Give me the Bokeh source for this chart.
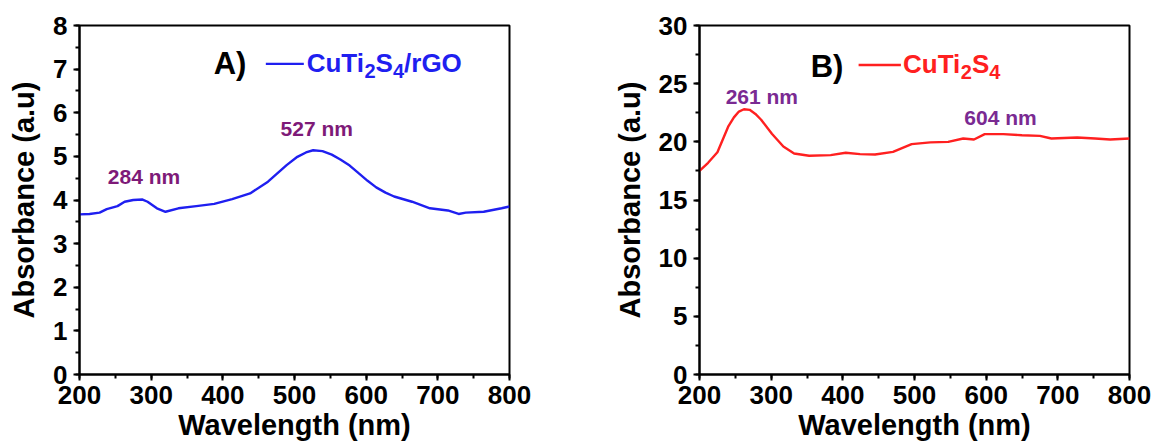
from bokeh.plotting import figure
from bokeh.layouts import row
from bokeh.models import Label, Range1d, SingleIntervalTicker
from bokeh.embed import file_html
from bokeh.resources import INLINE

# ---------------- data ----------------
wavelength_a = [200, 214, 228, 238, 253, 263, 275, 288, 295, 308, 320, 338, 363, 388, 413,
                438, 463, 489, 504, 516, 526, 539, 552, 564, 577, 589, 602, 614, 627, 639,
                664, 689, 714, 729, 739, 764, 789, 800]
absorbance_a = [3.67, 3.68, 3.71, 3.79, 3.86, 3.96, 4.00, 4.01, 3.96, 3.81, 3.73, 3.81, 3.86,
                3.91, 4.02, 4.15, 4.42, 4.80, 4.99, 5.09, 5.14, 5.12, 5.04, 4.93, 4.79, 4.62,
                4.44, 4.29, 4.17, 4.08, 3.96, 3.81, 3.76, 3.68, 3.71, 3.73, 3.81, 3.85]

wavelength_b = [200, 212, 225, 240, 248, 255, 262, 270, 278, 286, 301, 317, 332, 353, 383,
                404, 424, 445, 470, 496, 522, 547, 568, 583, 598, 624, 650, 675, 691, 727,
                752, 773, 800]
absorbance_b = [17.5, 18.2, 19.1, 21.3, 22.1, 22.6, 22.8, 22.75, 22.4, 21.9, 20.7, 19.6, 19.0,
                18.8, 18.86, 19.06, 18.94, 18.91, 19.14, 19.8, 19.95, 20.0, 20.29, 20.2, 20.66,
                20.66, 20.57, 20.51, 20.29, 20.37, 20.29, 20.2, 20.29]

peak_labels_a = ["284 nm", "527 nm"]
peak_labels_b = ["261 nm", "604 nm"]

FONT = "Liberation Sans"
BLUE = "#1f1ff0"
RED = "#ff2020"


def make_fig(width, ymax, ystep, left, right):
    p = figure(width=width, height=445, output_backend="svg", toolbar_location=None,
               x_range=Range1d(200, 800), y_range=Range1d(0, ymax),
               min_border_left=left, min_border_right=right,
               min_border_top=25, min_border_bottom=71)
    p.grid.visible = False
    p.outline_line_color = "black"
    p.outline_line_width = 2
    p.background_fill_color = "white"
    p.border_fill_color = "white"
    p.xaxis.ticker = SingleIntervalTicker(interval=100, num_minor_ticks=2)
    p.yaxis.ticker = SingleIntervalTicker(interval=ystep, num_minor_ticks=2)
    for ax in (p.xaxis[0], p.yaxis[0]):
        ax.axis_line_width = 2
        ax.major_tick_line_width = 2
        ax.minor_tick_line_width = 2
        ax.major_tick_out = 6
        ax.major_tick_in = 0
        ax.minor_tick_out = 4
        ax.minor_tick_in = 0
        ax.major_label_text_font = FONT
        ax.major_label_text_font_style = "bold"
        ax.major_label_text_font_size = "26px"
        ax.major_label_text_color = "black"
        ax.axis_label_text_font = FONT
        ax.axis_label_text_font_style = "bold"
        ax.axis_label_text_font_size = "29px"
        ax.axis_label_text_color = "black"
    p.xaxis.axis_label = "Wavelength (nm)"
    p.yaxis.axis_label = "Absorbance (a.u)"
    p.xaxis.major_label_standoff = 5
    p.xaxis.axis_label_standoff = 2
    p.yaxis.major_label_standoff = 6
    p.yaxis.axis_label_standoff = 10
    return p


# Liberation Sans Bold advance widths (per em)
ADV = {"C": 0.722, "u": 0.611, "T": 0.611, "i": 0.278, "S": 0.667, "/": 0.278,
       "r": 0.389, "G": 0.778, "O": 0.778, "2": 0.556, "4": 0.556}


def formula(p, x, y, pieces, color, main=26, sub=20):
    off = 0.0
    for txt, is_sub in pieces:
        size = sub if is_sub else main
        p.add_layout(Label(x=x, y=y, x_offset=off, y_offset=(-8 if is_sub else 0),
                           text=txt, text_font=FONT, text_font_style="bold",
                           text_font_size=f"{size}px", text_color=color,
                           text_baseline="middle", text_align="left"))
        off += sum(ADV.get(c, 0.6) for c in txt) * size


def note(p, x, y, txt, color, size="21px"):
    p.add_layout(Label(x=x, y=y, text=txt, text_font=FONT, text_font_style="bold",
                       text_font_size=size, text_color=color, text_align="center",
                       text_baseline="middle"))


# ---------------- panel A ----------------
pa = make_fig(590, 8, 1, 79, 81)
pa.line(wavelength_a, absorbance_a, line_color=BLUE, line_width=2.4)
note(pa, 410, 7.12, "A)", "black", "31px")
pa.segment(x0=[460], y0=[7.12], x1=[513], y1=[7.12], line_color=BLUE, line_width=2.4)
formula(pa, 517, 7.15, [("CuTi", False), ("2", True), ("S", False), ("4", True), ("/rGO", False)], BLUE)
note(pa, 290, 4.53, peak_labels_a[0], "#7e1a78")
note(pa, 531, 5.64, peak_labels_a[1], "#7e1a78")

# ---------------- panel B ----------------
pb = make_fig(568, 30, 5, 109, 29)
pb.line(wavelength_b, absorbance_b, line_color=RED, line_width=2.4)
note(pb, 378, 26.5, "B)", "black", "31px")
pb.segment(x0=[422], y0=[26.6], x1=[481], y1=[26.6], line_color=RED, line_width=2.4)
formula(pb, 484, 26.7, [("CuTi", False), ("2", True), ("S", False), ("4", True)], RED)
note(pb, 287, 23.9, peak_labels_b[0], "#7a2a92")
note(pb, 620, 22.1, peak_labels_b[1], "#7a2a92")

layout = row(pa, pb)
open("out.html", "w").write(file_html(layout, INLINE))
